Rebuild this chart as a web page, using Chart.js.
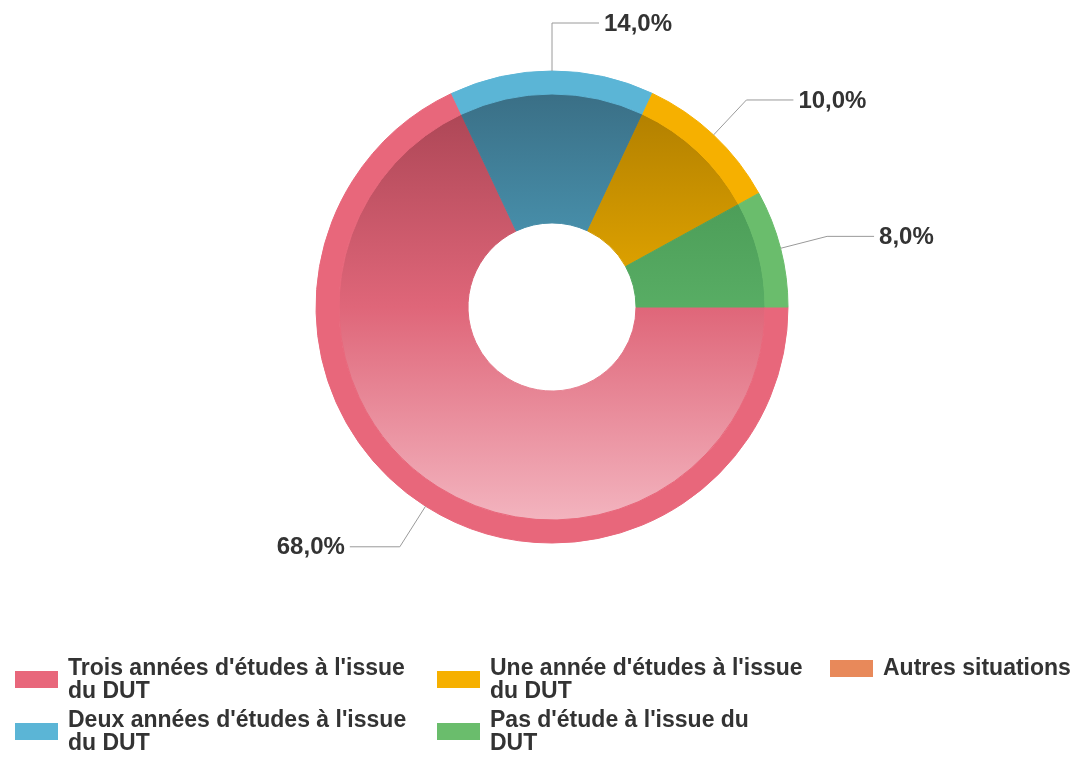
<!DOCTYPE html>
<html>
<head>
<meta charset="utf-8">
<script src="https://cdn.jsdelivr.net/npm/chart.js@4.4.1/dist/chart.umd.min.js"></script>
<style>
html, body { margin: 0; padding: 0; background: #fff; }
#wrap { position: relative; width: 1079px; height: 759px; overflow: hidden; }
#chart { position: absolute; left: 0; top: 0; }
.leg { position: absolute; font: bold 23px "Liberation Sans", Arial, sans-serif; line-height: 23px; color: #333; white-space: nowrap; }
.sw { position: absolute; width: 43px; height: 17px; }
</style>
</head>
<body>
<div id="wrap">
  <canvas id="chart" width="1079" height="759"></canvas>
  <div id="legend"></div>
</div>
<script>
// categories (multi-line as in the legend)
const categories = [
    ["Trois années d'études à l'issue", "du DUT"],
    ["Deux années d'études à l'issue", "du DUT"],
    ["Une année d'études à l'issue", "du DUT"],
    ["Pas d'étude à l'issue du", "DUT"],
    ["Autres situations"]
];
const values = [68, 14, 10, 8, 0];

// couleurs
const rimColors = ['#e8677b', '#5bb5d6', '#f6b000', '#6abd6c', '#e8895a'];
const bodyTop = ['#a3404f', '#386a80', '#a87800', '#3e8a4a', '#e8895a'];
const bodyMid = ['#df6679', '#4e9fbd', '#e6a800', '#58ad64', '#e8895a'];
const bodyBottom = ['#f5bcc6', '#7fc4dd', '#ffd060', '#8ed196', '#e8895a'];

const R = 236;

function bodyColor(context) {
    const i = context.dataIndex;
    const area = context.chart.chartArea;
    if (!area) return bodyMid[i];
    const cy = (area.top + area.bottom) / 2;
    const g = context.chart.ctx.createLinearGradient(0, cy - R, 0, cy + R);
    g.addColorStop(0, bodyTop[i]);
    g.addColorStop(0.5, bodyMid[i]);
    g.addColorStop(1, bodyBottom[i]);
    return g;
}

// etiquettes avec traits
const labelPlugin = {
    id: 'pctLabels',
    afterDatasetsDraw(chart) {
        const meta = chart.getDatasetMeta(0);
        const ctx = chart.ctx;
        ctx.save();
        ctx.font = 'bold 24px "Liberation Sans", Arial, sans-serif';
        ctx.textBaseline = 'middle';
        ctx.strokeStyle = '#9a9a9a';
        ctx.lineWidth = 1;
        ctx.fillStyle = '#333';
        meta.data.forEach((arc, i) => {
            if (!values[i]) return;
            const mid = (arc.startAngle + arc.endAngle) / 2;
            const c = Math.cos(mid), s = Math.sin(mid);
            const x1 = arc.x + c * arc.outerRadius, y1 = arc.y + s * arc.outerRadius;
            const x2 = arc.x + c * (arc.outerRadius + 48), y2 = arc.y + s * (arc.outerRadius + 48);
            const right = c >= -0.001;
            const x3 = x2 + (right ? 47 : -50);
            ctx.beginPath();
            ctx.moveTo(x1, y1);
            ctx.lineTo(x2, y2);
            ctx.lineTo(x3, y2);
            ctx.stroke();
            ctx.textAlign = right ? 'left' : 'right';
            const txt = values[i].toFixed(1).replace('.', ',') + '%';
            ctx.fillText(txt, x3 + (right ? 5 : -5), y2 + 1);
        });
        ctx.restore();
    }
};

new Chart(document.getElementById('chart'), {
    type: 'doughnut',
    data: {
        labels: categories,
        datasets: [
            {
                data: values,
                backgroundColor: rimColors,
                borderColor: rimColors,
                borderWidth: 1,
                weight: 23
            },
            {
                data: values,
                backgroundColor: bodyColor,
                borderColor: bodyColor,
                borderWidth: 1,
                weight: 129
            }
        ]
    },
    options: {
        responsive: false,
        animation: false,
        events: [],
        rotation: 90,
        radius: R,
        cutout: '35.6%',
        hoverOffset: 0,
        layout: { padding: { left: 25, right: 0, top: 0, bottom: 145 } },
        plugins: {
            legend: { display: false },
            tooltip: { enabled: false }
        }
    },
    plugins: [labelPlugin]
});

// legende HTML (3 colonnes)
const legendPos = [[15, 656], [15, 708], [437, 656], [437, 708], [830, 656]];
const legend = document.getElementById('legend');
categories.forEach((lines, i) => {
    const [x, y] = legendPos[i];
    const sw = document.createElement('div');
    sw.className = 'sw';
    sw.style.background = rimColors[i];
    sw.style.left = x + 'px';
    sw.style.top = (y + (lines.length * 23) / 2 - 8) + 'px';
    legend.appendChild(sw);
    const t = document.createElement('div');
    t.className = 'leg';
    t.style.left = (x + 53) + 'px';
    t.style.top = y + 'px';
    t.innerHTML = lines.map(l => l.replace(/</g, '&lt;')).join('<br>');
    legend.appendChild(t);
});
</script>
</body>
</html>
